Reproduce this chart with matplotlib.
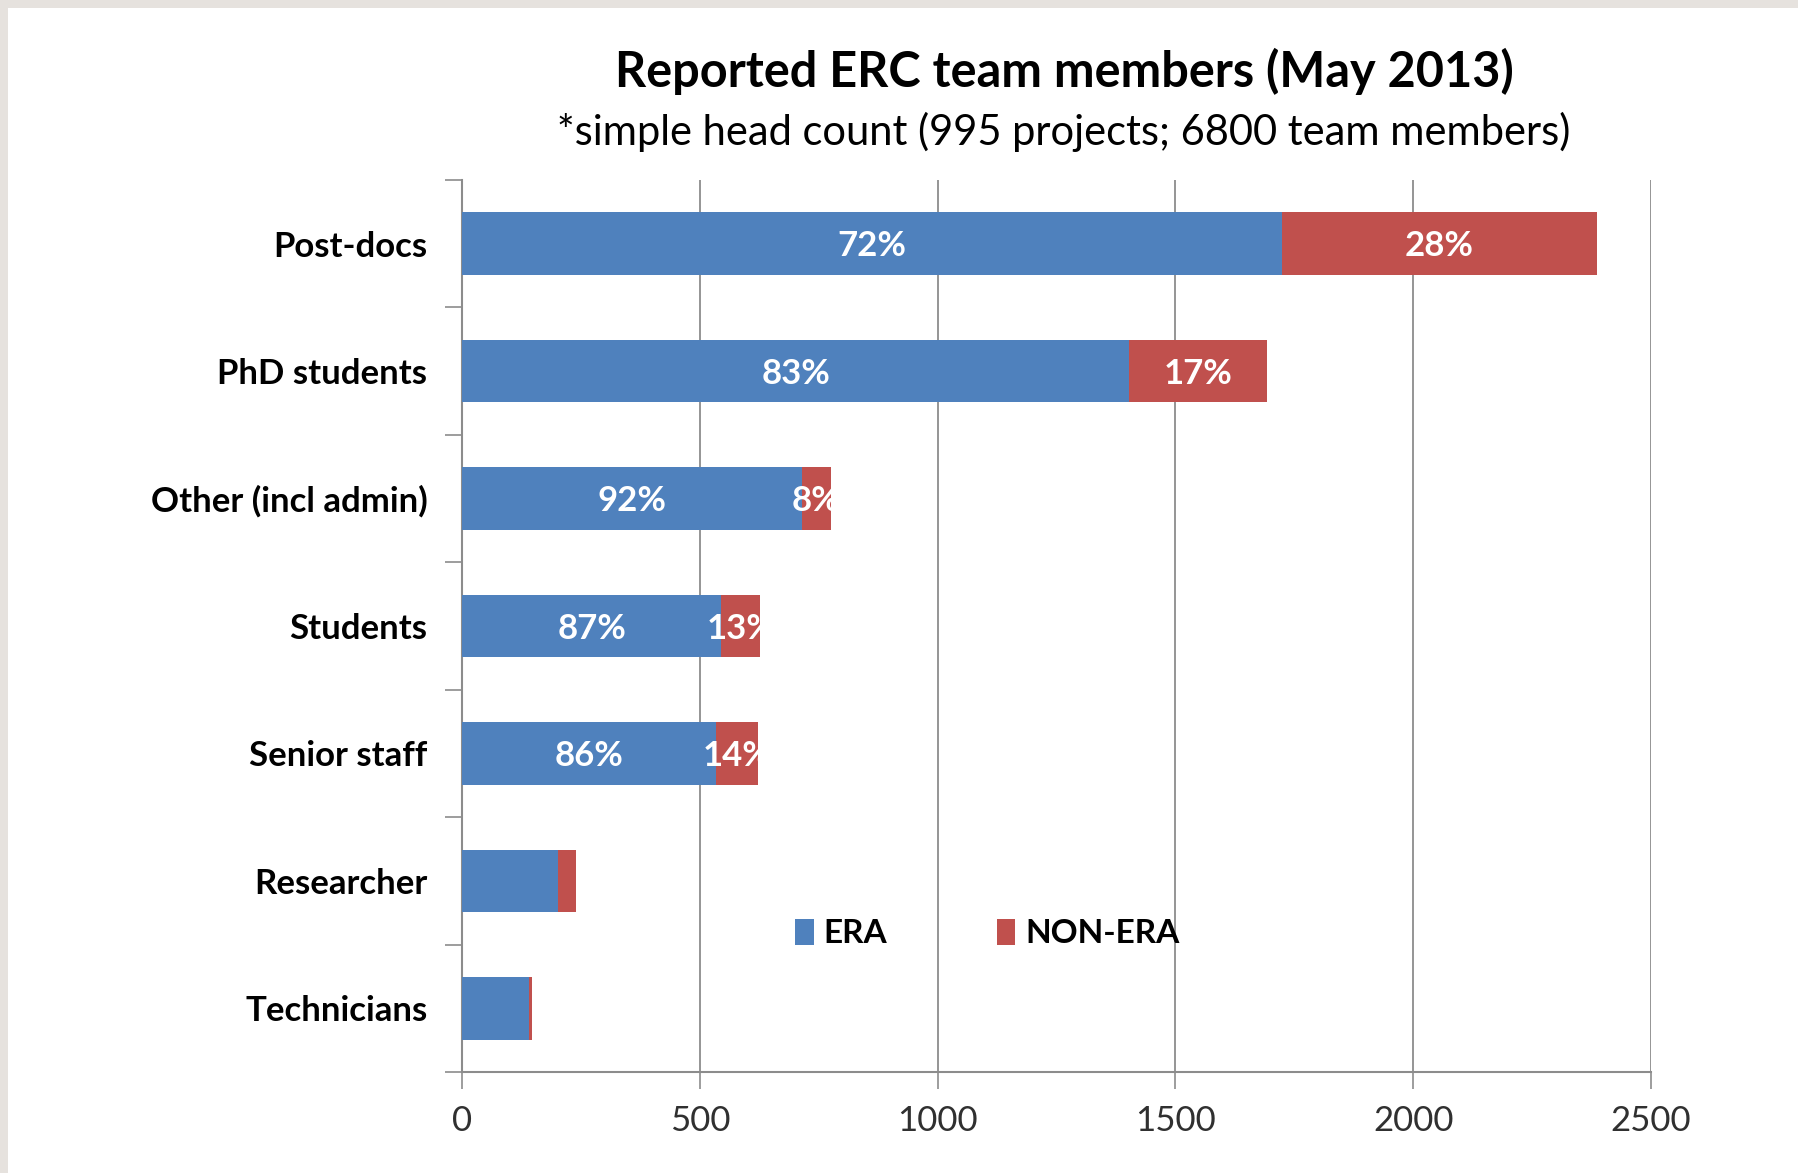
import numpy as np
import matplotlib
matplotlib.use("Agg")
import matplotlib.pyplot as plt
from matplotlib.patches import Rectangle

# data
categories = ["Post-docs", "PhD students", "Other (incl admin)", "Students",
              "Senior staff", "Researcher", "Technicians"]
era = [1724, 1403, 714, 545, 535, 202, 140]
non_era = [663, 289, 62, 82, 87, 37, 7]
era_labels = ["72%", "83%", "92%", "87%", "86%", "", ""]
non_era_labels = ["28%", "17%", "8%", "13%", "14%", "", ""]
xticks = [0, 500, 1000, 1500, 2000, 2500]

BLUE = "#4F81BD"
RED = "#C0504D"
GRID = "#8c8c8c"

plt.rcParams["font.family"] = ["Lato", "DejaVu Sans"]

W, H = 1798, 1173
fig = plt.figure(figsize=(W / 100, H / 100), dpi=100)
fig.patch.set_facecolor("#E6E2DE")
# white slide area
fig.patches.append(Rectangle((8 / W, 0), 1 - 8 / W, 1 - 8 / H,
                             transform=fig.transFigure, facecolor="white",
                             edgecolor="none", zorder=-1))

ax = fig.add_axes([462 / W, 1 - 1072 / H, (1651 - 462) / W, (1072 - 180) / H])
ax.set_facecolor("none")

y = np.arange(len(categories))
bh = 0.49
b1 = ax.barh(y, era, height=bh, color=BLUE, zorder=3, label="ERA")
b2 = ax.barh(y, non_era, left=era, height=bh, color=RED, zorder=3, label="NON-ERA")

for i in range(len(categories)):
    total = era[i] + non_era[i]
    clip = Rectangle((0, y[i] - bh / 2), total, bh, transform=ax.transData)
    if era_labels[i]:
        t = ax.text(era[i] / 2, y[i] + 0.02, era_labels[i], color="white", fontsize=25,
                    fontweight="bold", ha="center", va="center", zorder=4)
    if non_era_labels[i]:
        t = ax.text(era[i] + non_era[i] / 2, y[i] + 0.02, non_era_labels[i], color="white",
                    fontsize=25, fontweight="bold", ha="center", va="center", zorder=4)
        t.set_clip_path(clip)

ax.set_xlim(0, 2500)
ax.set_ylim(len(categories) - 0.5, -0.5)
ax.set_xticks(xticks)
ax.set_xticklabels([str(v) for v in xticks], fontsize=25, color="#303030")
ax.set_yticks(y)
ax.set_yticklabels(categories, fontsize=25, fontweight="bold", color="black")
ax.set_yticks(np.arange(len(categories) + 1) - 0.5, minor=True)
ax.tick_params(axis="y", which="major", length=0, pad=25)
ax.tick_params(axis="y", which="minor", length=12, color=GRID, width=1.2)
ax.tick_params(axis="x", length=12, color=GRID, width=1.2, pad=12)
ax.grid(axis="x", color=GRID, linewidth=1.3, zorder=1)
for s in ["top", "right"]:
    ax.spines[s].set_visible(False)
for s in ["left", "bottom"]:
    ax.spines[s].set_color(GRID)
    ax.spines[s].set_linewidth(1.5)

leg = ax.legend(loc="upper left", bbox_to_anchor=(0.255, 0.205), ncol=2, frameon=False,
                prop={"size": 24, "weight": "bold"}, handlelength=0.55, handleheight=0.8,
                handletextpad=0.3, columnspacing=3.3)

fig.text(1064 / W, 1 - 71 / H, "Reported ERC team members (May 2013)", fontsize=35,
         fontweight="bold", ha="center", va="center")
fig.text(1064 / W, 1 - 132 / H, "*simple head count (995 projects; 6800 team members)",
         fontsize=30, ha="center", va="center")

fig.savefig("out.png", dpi=100, facecolor=fig.get_facecolor())
